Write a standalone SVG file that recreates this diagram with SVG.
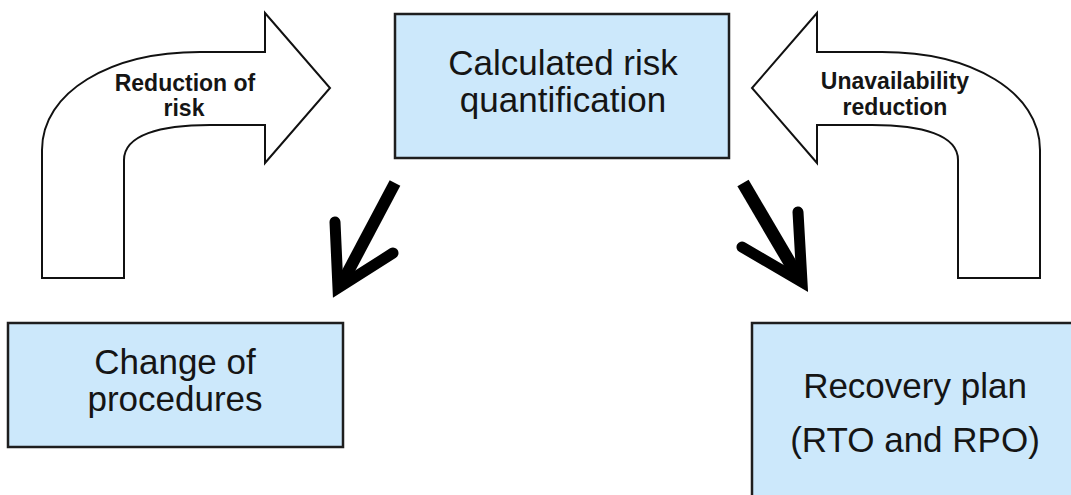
<svg xmlns="http://www.w3.org/2000/svg" width="1071" height="495" viewBox="0 0 1071 495">
  <style>
    .box { fill: #cce8fb; stroke: #1e1e1e; stroke-width: 2.5; }
    .bend { fill: #ffffff; stroke: #111111; stroke-width: 2; stroke-linejoin: miter; }
    .big { font-family: "Liberation Sans", Arial, sans-serif; font-size: 35px; fill: #151515; text-anchor: middle; }
    .lbl { font-family: "Liberation Sans", Arial, sans-serif; font-size: 23px; font-weight: bold; fill: #151515; text-anchor: middle; }
    .shaft { fill: none; stroke: #000000; stroke-linecap: butt; }
    .head { fill: none; stroke: #000000; stroke-width: 11; stroke-linecap: round; stroke-linejoin: miter; stroke-miterlimit: 10; }
  </style>
  <rect width="1071" height="495" fill="#ffffff"/>

  <!-- curved arrow into the top box from the left -->
  <g id="reduction-of-risk">
    <path class="bend" d="M42,278 L42,150 C42,92 110,52 200,52 L265,52 L265,13 L330,88 L265,163 L265,125 L210,125 C160,125 124,135 124,160 L124,278 Z"/>
    <text class="lbl" x="185" y="91">Reduction of</text>
    <text class="lbl" x="184" y="116">risk</text>
  </g>

  <!-- curved arrow into the top box from the right -->
  <g id="unavailability-reduction">
    <path class="bend" d="M1040,278 L1040,150 C1040,92 972,52 882,52 L817,52 L817,13 L752,88 L817,163 L817,125 L872,125 C922,125 958,135 958,160 L958,278 Z"/>
    <text class="lbl" x="895" y="89">Unavailability</text>
    <text class="lbl" x="895" y="115">reduction</text>
  </g>

  <g id="risk-quantification">
    <rect class="box" x="395" y="14" width="334" height="144"/>
    <text class="big" x="563" y="75">Calculated risk</text>
    <text class="big" x="563" y="112">quantification</text>
  </g>

  <g id="change-of-procedures">
    <rect class="box" x="8" y="323" width="335" height="124"/>
    <text class="big" x="175" y="374">Change of</text>
    <text class="big" x="175" y="411">procedures</text>
  </g>

  <g id="recovery-plan">
    <rect class="box" x="752" y="323" width="360" height="220"/>
    <text class="big" x="915" y="398">Recovery plan</text>
    <text class="big" x="915" y="452">(RTO and RPO)</text>
  </g>

  <!-- thick black connectors from the top box -->
  <g id="connectors">
    <path class="shaft" stroke-width="12" d="M395,183 L342,283"/>
    <path class="head" d="M335,222 L338,288 L393,253"/>
    <path class="shaft" stroke-width="13" d="M743,183 L800,280"/>
    <path class="head" d="M798,212 L802,282 L742,247"/>
  </g>
</svg>
